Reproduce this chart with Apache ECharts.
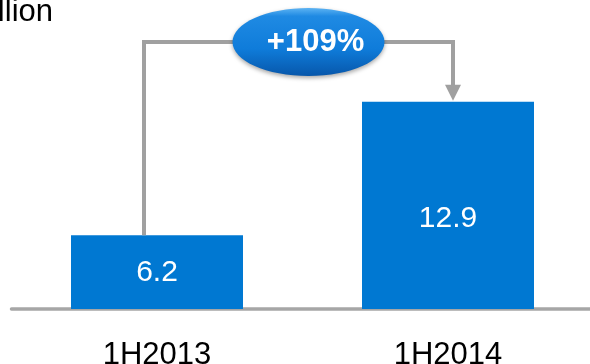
<!DOCTYPE html>
<html>
<head>
<meta charset="utf-8">
<script src="https://cdn.jsdelivr.net/npm/echarts@6/dist/echarts.min.js"></script>
<style>
html, body { margin: 0; padding: 0; background: #fff; }
#chart { width: 590px; height: 364px; }
</style>
</head>
<body>
<div id="chart"></div>
<script>
const categories = ['1H2013', '1H2014'];
const values = [6.2, 12.9];
const unitLabel = 'million';
const growthLabel = '+109%';

const BLUE = '#0078D2';
const GREY = '#A0A0A0';
const FONT = '"Liberation Sans", Arial, sans-serif';

const chart = echarts.init(document.getElementById('chart'));

chart.setOption({
  animation: false,
  grid: { left: 11.5, width: 582, top: 40, bottom: 55, outerBoundsMode: 'none', containLabel: false },
  xAxis: {
    type: 'category',
    data: categories,
    axisLine: { lineStyle: { color: '#A6A6A6', width: 3.5 } },
    axisTick: { show: false },
    axisLabel: { color: '#000', fontSize: 31, fontFamily: FONT, margin: 31 }
  },
  yAxis: {
    type: 'value',
    min: 2.5,
    max: 16,
    startValue: 2.5,
    show: false
  },
  series: [{
    type: 'bar',
    barWidth: 172,
    // second label sits a bit below the middle of its bar
    data: values.map((v, i) => ({ value: v, label: { offset: [0, i === 1 ? 13 : 1] } })),
    itemStyle: { color: BLUE },
    label: { show: true, position: 'inside', color: '#fff', fontSize: 30, fontFamily: FONT }
  }]
});

// bracket + growth bubble, placed from the bar positions
const p1 = chart.convertToPixel({ seriesIndex: 0 }, [0, values[0]]);
const p2 = chart.convertToPixel({ seriesIndex: 0 }, [1, values[1]]);
const yTop = chart.convertToPixel({ yAxisIndex: 0 }, 16) + 2;
const x1 = p1[0] - 13;
const x2 = p2[0] + 5;
const cx = (x1 + x2) / 2 + 10;

chart.setOption({
  graphic: [
    {
      type: 'polyline', z: 10,
      shape: { points: [[x1, p1[1]], [x1, yTop], [x2, yTop], [x2, p2[1] - 16]] },
      style: { stroke: GREY, lineWidth: 4, fill: null }
    },
    {
      type: 'polygon', z: 10,
      shape: { points: [[x2 - 8, p2[1] - 17], [x2 + 8, p2[1] - 17], [x2, p2[1] - 1]] },
      style: { fill: GREY }
    },
    {
      type: 'ellipse', z: 11,
      shape: { cx: cx, cy: yTop, rx: 76, ry: 34 },
      style: {
        fill: {
          type: 'linear', x: 0, y: 0, x2: 0, y2: 1,
          colorStops: [
            { offset: 0, color: '#5cb3f3' },
            { offset: 0.12, color: '#1f8ae3' },
            { offset: 0.6, color: '#0f7cda' },
            { offset: 1, color: '#0757ab' }
          ]
        },
        shadowBlur: 4,
        shadowColor: 'rgba(0,0,0,0.35)',
        shadowOffsetY: 2
      }
    },
    {
      type: 'text', z: 12,
      x: cx + 7, y: yTop,
      style: {
        text: growthLabel, fill: '#fff',
        font: 'bold 31px "Liberation Sans", Arial, sans-serif',
        align: 'center', verticalAlign: 'middle'
      }
    },
    {
      type: 'text', z: 12,
      x: 53, y: -3,
      style: {
        text: unitLabel, fill: '#000',
        font: '31px "Liberation Sans", Arial, sans-serif',
        align: 'right', verticalAlign: 'top'
      }
    }
  ]
});
</script>
</body>
</html>
